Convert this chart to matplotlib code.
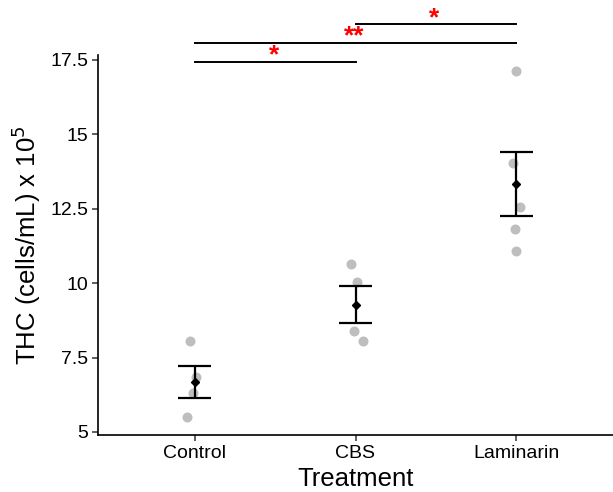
import numpy as np
import matplotlib
matplotlib.use("Agg")
import matplotlib.pyplot as plt

plt.rcParams['font.family'] = ['Liberation Sans', 'DejaVu Sans']

categories = ["Control", "CBS", "Laminarin"]
control_vals = [8.07, 6.84, 6.32, 5.49]
cbs_vals = [10.63, 10.05, 8.40, 8.05]
laminarin_vals = [17.14, 14.05, 12.57, 11.82, 11.07]
control_jit = [-0.03, 0.01, -0.01, -0.045]
cbs_jit = [-0.03, 0.01, -0.01, 0.045]
laminarin_jit = [0.0, -0.02, 0.025, -0.012, 0.0]
yticks = [5, 7.5, 10, 12.5, 15, 17.5]
ytick_labels = ["5", "7.5", "10", "12.5", "15", "17.5"]
# significance comparisons: (group a, group b, bracket height, label)
comp_a = [1, 1, 2]
comp_b = [2, 3, 3]
comp_y = [17.44, 18.07, 18.70]
comp_label = ["*", "**", "*"]

groups = [control_vals, cbs_vals, laminarin_vals]
jitters = [control_jit, cbs_jit, laminarin_jit]

fig = plt.figure(figsize=(6.13, 4.92), dpi=100)
ax = fig.add_axes([98/613, 1 - 435/492, 1 - 98/613, (435 - 55)/492])

for i, (vals, jit) in enumerate(zip(groups, jitters)):
    xpos = i + 1
    v = np.array(vals)
    ax.plot(xpos + np.array(jit), v, 'o', color='#BEBEBE', markersize=7.2,
            markeredgewidth=0, zorder=2)
    m = v.mean()
    se = v.std(ddof=1) / np.sqrt(len(v))
    ax.vlines(xpos, m - se, m + se, color='black', lw=1.6, zorder=3)
    ax.hlines([m - se, m + se], xpos - 0.1, xpos + 0.1, color='black', lw=1.6, zorder=3)
    ax.plot([xpos], [m], 'D', color='black', markersize=4.5, zorder=4)

for a, b, y, lab in zip(comp_a, comp_b, comp_y, comp_label):
    ax.plot([a, b], [y, y], color='black', lw=1.4, clip_on=False, zorder=5)
    ax.annotate(lab, xy=((a + b) / 2, y), xytext=(-1, -0.5), textcoords='offset points',
                color='red', ha='center', va='baseline', fontsize=19,
                fontweight='bold', annotation_clip=False)

ax.set_xlim(0.4, 3.6)
ax.set_ylim(4.899, 17.668)
ax.set_xticks([1, 2, 3])
ax.set_xticklabels(categories, fontsize=14)
ax.set_yticks(yticks)
ax.set_yticklabels(ytick_labels, fontsize=14)
ax.spines['top'].set_visible(False)
ax.spines['right'].set_visible(False)
for s in ['left', 'bottom']:
    ax.spines[s].set_linewidth(1.2)
ax.tick_params(axis='both', length=4, width=1.1, color='#333333', pad=3)
ax.set_xlabel("Treatment", fontsize=18.5, labelpad=4)
ax.set_ylabel(r"THC (cells/mL) x 10$^5$", fontsize=18.5, labelpad=5)

fig.savefig("out.png", dpi=100)
